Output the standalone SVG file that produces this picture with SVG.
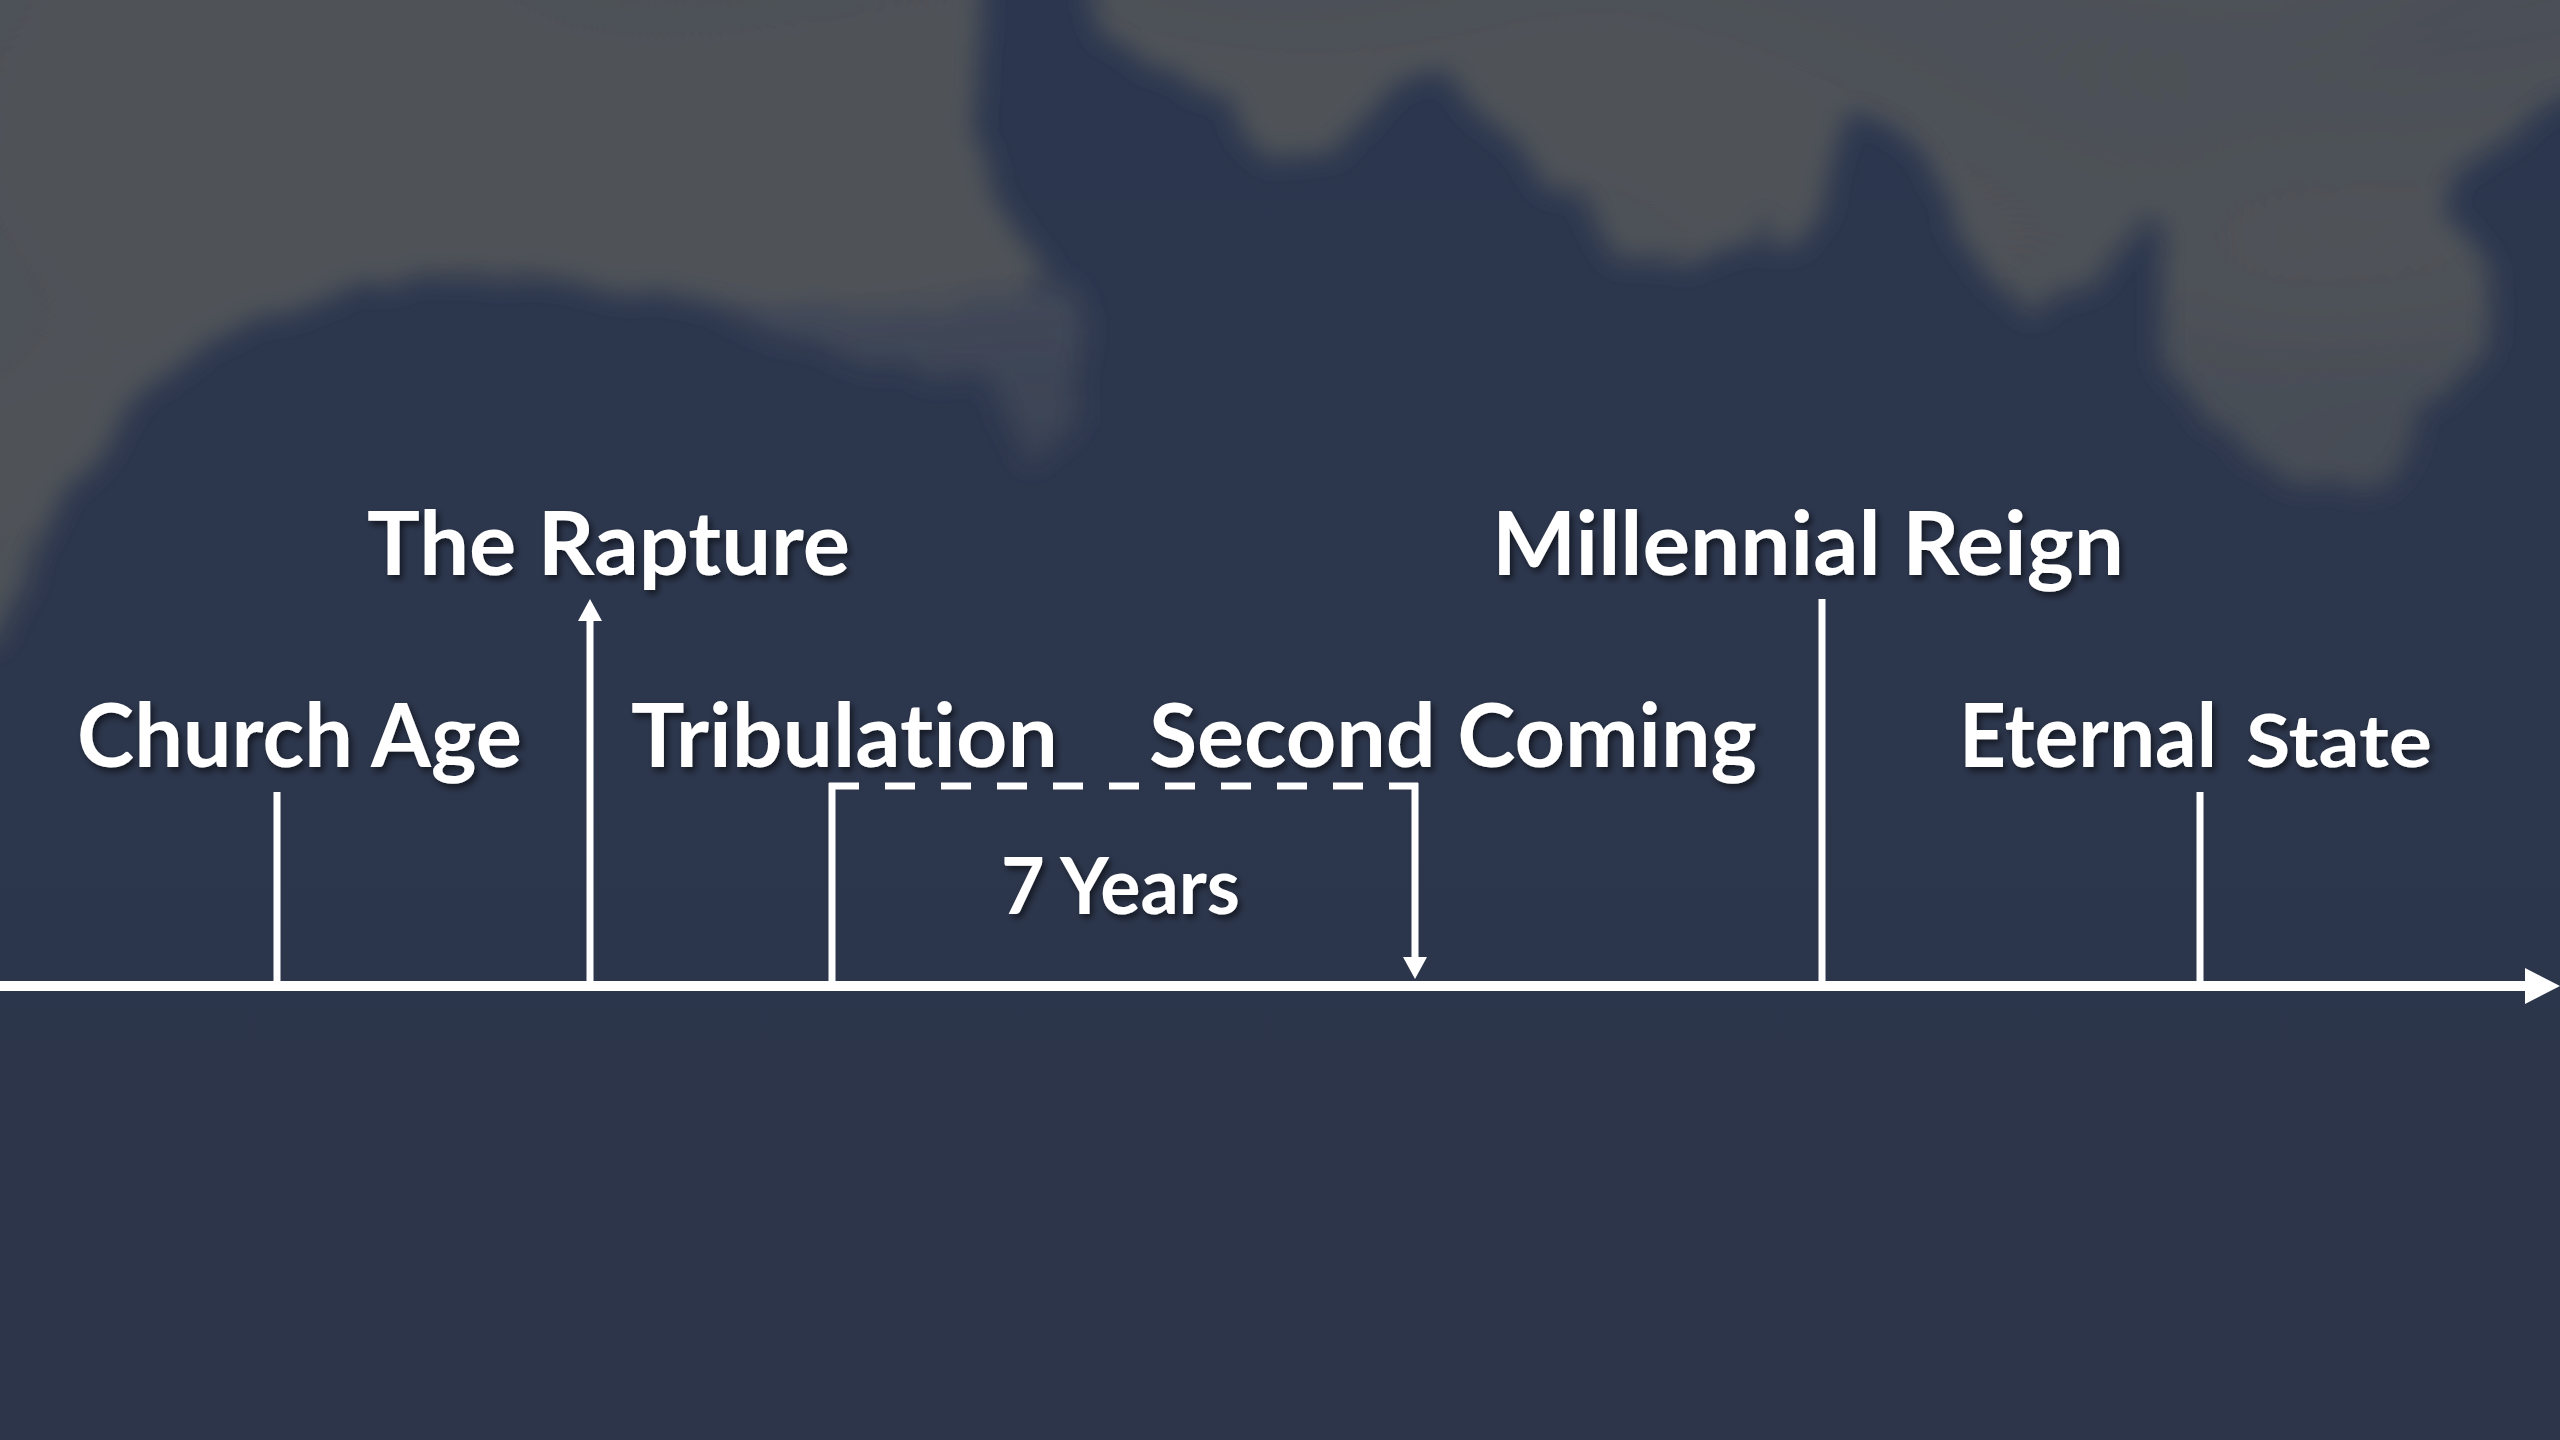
<svg xmlns="http://www.w3.org/2000/svg" width="2560" height="1440" viewBox="0 0 2560 1440">
  <defs>
    <linearGradient id="sky" x1="0" y1="0" x2="0" y2="1">
      <stop offset="0" stop-color="#2c374f"/>
      <stop offset="0.5" stop-color="#2c364c"/>
      <stop offset="1" stop-color="#2c3549"/>
    </linearGradient>
    <filter id="cloudfx" x="-10%" y="-10%" width="120%" height="130%">
      <feTurbulence type="fractalNoise" baseFrequency="0.025 0.01" numOctaves="3" seed="11" result="noise"/>
      <feDisplacementMap in="SourceGraphic" in2="noise" scale="28" xChannelSelector="R" yChannelSelector="G" result="disp"/>
      <feGaussianBlur in="disp" stdDeviation="13" result="soft"/>
      <feTurbulence type="fractalNoise" baseFrequency="0.0018 0.0035" numOctaves="1" seed="5" result="n2"/>
      <feColorMatrix in="n2" type="matrix" values="0 0 0 0 0  0 0 0 0 0  0 0 0 0 0  0.8 0 0 0 0.55" result="a2"/>
      <feComposite in="soft" in2="a2" operator="in"/>
    </filter>
    <filter id="shadow" x="-10%" y="-20%" width="120%" height="150%">
      <feDropShadow dx="3" dy="4" stdDeviation="3" flood-color="#000000" flood-opacity="0.55"/>
    </filter>
    <marker id="headMain" markerUnits="userSpaceOnUse" viewBox="0 0 35 36" refX="0" refY="18" markerWidth="35" markerHeight="36" orient="auto">
      <path d="M0,0 L35,18 L0,36 Z" fill="#ffffff"/>
    </marker>
    <marker id="headSmall" markerUnits="userSpaceOnUse" viewBox="0 0 22 24" refX="0" refY="12" markerWidth="22" markerHeight="24" orient="auto">
      <path d="M0,0 L22,12 L0,24 Z" fill="#ffffff"/>
    </marker>
  </defs>
  <style>
    .lbl { font-family: Lato, "Open Sans", "Liberation Sans", sans-serif; font-weight: 700; fill: #ffffff; filter: url(#shadow); font-variant-ligatures: none; font-feature-settings: "liga" 0, "clig" 0; }
    .big { font-size: 88px; }
    .mid { font-size: 78px; }
    .small { font-size: 72px; }
    .tick { stroke: #ffffff; stroke-width: 7; fill: none; }
    .axis { stroke: #ffffff; stroke-width: 10; fill: none; }
    .dash { stroke: #ffffff; stroke-width: 7; fill: none; stroke-dasharray: 30 26; }
    .cloud { fill: #4f5259; }
    .cloudlite { fill: #434859; }
  </style>

  <g id="background">
    <rect x="0" y="0" width="2560" height="1440" fill="url(#sky)"/>
    <g filter="url(#cloudfx)">
      <path class="cloudlite" d="M700,300 L1000,280 L1077,295 L1077,421 L1035,463 L986,379 L881,366 L775,337 Z"/>
      <path class="cloud" d="M-80,-80 L985,-80 L980,0 L975,100 L985,190 L1021,231 L1050,270 L1000,300 L900,310 L800,305 L700,300 L612,289 L490,275 L367,285 L286,312 L204,344 L122,413 L49,528 L0,643 L-80,660 Z"/>
      <path class="cloud" d="M1091,-80 L2640,-80 L2640,96 L2560,96 L2512,134 L2457,172 L2440,210 L2490,268 L2495,344 L2457,383 L2413,421 L2397,478 L2358,490 L2303,478 L2249,459 L2194,402 L2161,364 L2161,230 L2150,218 L2128,249 L2084,287 L2029,314 L2002,287 L1963,230 L1919,153 L1880,120 L1848,115 L1830,180 L1800,240 L1777,249 L1766,207 L1755,249 L1700,262 L1655,266 L1607,248 L1582,207 L1525,161 L1484,115 L1443,69 L1400,80 L1337,147 L1266,160 L1231,105 L1140,63 L1100,30 L1091,0 Z"/>
    </g>
  </g>

  <g id="connectors">
    <line id="timeline" class="axis" x1="0" y1="986" x2="2525" y2="986" marker-end="url(#headMain)"/>
    <line id="rapture-arrow" class="tick" x1="590" y1="986" x2="590" y2="621" marker-end="url(#headSmall)"/>
    <line id="church-tick" class="tick" x1="277" y1="986" x2="277" y2="792"/>
    <line id="millennial-tick" class="tick" x1="1822" y1="986" x2="1822" y2="599"/>
    <line id="eternal-tick" class="tick" x1="2200" y1="986" x2="2200" y2="792"/>
    <line id="trib-left" class="tick" x1="832" y1="986" x2="832" y2="783"/>
    <line id="trib-dash" class="dash" x1="829" y1="786" x2="1418" y2="786"/>
    <line id="second-arrow" class="tick" x1="1415" y1="783" x2="1415" y2="957" marker-end="url(#headSmall)"/>
  </g>

  <g id="node-church-age">
    <text class="lbl big" x="77" y="767" textLength="445" lengthAdjust="spacingAndGlyphs">Church Age</text>
  </g>
  <g id="node-rapture">
    <text class="lbl big" x="367" y="575" textLength="483" lengthAdjust="spacingAndGlyphs">The Rapture</text>
  </g>
  <g id="node-tribulation">
    <text class="lbl big" x="631" y="767" textLength="427" lengthAdjust="spacingAndGlyphs">Tribulation</text>
  </g>
  <g id="node-seven-years">
    <text class="lbl mid" x="1001" y="914" textLength="239" lengthAdjust="spacingAndGlyphs">7 Years</text>
  </g>
  <g id="node-second-coming">
    <text class="lbl big" x="1149" y="767" textLength="608" lengthAdjust="spacingAndGlyphs">Second Coming</text>
  </g>
  <g id="node-millennial-reign">
    <text class="lbl big" x="1492" y="575" textLength="632" lengthAdjust="spacingAndGlyphs">Millennial Reign</text>
  </g>
  <g id="node-eternal-state">
    <text class="lbl big" x="1959" y="767"><tspan textLength="258" lengthAdjust="spacingAndGlyphs">Eternal</tspan><tspan class="small" x="2246" textLength="186" lengthAdjust="spacingAndGlyphs">State</tspan></text>
  </g>
</svg>
